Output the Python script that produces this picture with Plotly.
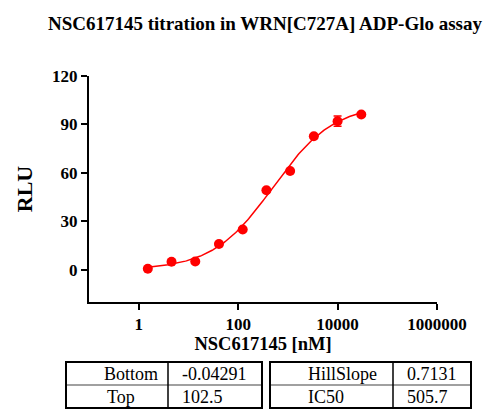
import numpy as np
import plotly.graph_objects as go

# Data
conc_nM = [1.524, 4.572, 13.72, 41.15, 123.5, 370.4, 1111, 3333, 10000, 30000]
rlu = [0.6, 4.9, 5.1, 15.9, 24.9, 49.2, 61.1, 82.7, 92.0, 96.1]
rlu_err = [0.5, 0.5, 0.5, 0.5, 0.5, 0.5, 0.5, 0.5, 3.2, 0.5]

# Fit parameters (as printed in the table)
param_names_left = ["Bottom", "Top"]
param_vals_left = ["-0.04291", "102.5"]
param_names_right = ["HillSlope", "IC50"]
param_vals_right = ["0.7131", "505.7"]
bottom, top, hill, ic50 = -0.04291, 102.5, 0.7131, 505.7

x_ticks = [1, 100, 10000, 1000000]
x_ticklabels = ["1", "100", "10000", "1000000"]
y_ticks = [0, 30, 60, 90, 120]

RED = "#ff0000"
FONT = "'Liberation Serif', 'Times New Roman', serif"

xf = np.logspace(np.log10(min(conc_nM)), np.log10(max(conc_nM)), 200)
yf = bottom + (top - bottom) / (1 + (ic50 / xf) ** hill)

fig = go.Figure()
fig.add_trace(go.Scatter(x=xf, y=yf, mode="lines", line=dict(color=RED, width=1.5),
                         hoverinfo="skip", showlegend=False))
fig.add_trace(go.Scatter(x=conc_nM, y=rlu, mode="markers",
                         marker=dict(color=RED, size=10),
                         error_y=dict(type="data", array=rlu_err, color=RED, thickness=1.5, width=4),
                         showlegend=False))

W, H = 500, 420
L, R, T, B = 89, 63, 76, 118

fig.update_layout(
    width=W, height=H,
    margin=dict(l=L, r=R, t=T, b=B),
    paper_bgcolor="white", plot_bgcolor="white",
    font=dict(family=FONT, color="black"),
    title=dict(text="<b>NSC617145 titration in WRN[C727A] ADP-Glo assay</b>",
               font=dict(size=19, family=FONT, color="black"),
               x=0.53, xanchor="center", y=1 - 23 / H, yanchor="middle"),
    xaxis=dict(type="log", range=[-1, 6], tickvals=x_ticks, ticktext=[f"<b>{t}</b>" for t in x_ticklabels],
               showgrid=False, zeroline=False, showline=True, linecolor="black", linewidth=2,
               ticks="outside", ticklen=6, tickwidth=2, tickcolor="black",
               tickfont=dict(size=17, family=FONT),
               title=dict(text="<b>NSC617145 [nM]</b>", font=dict(size=18.5, family=FONT), standoff=1)),
    yaxis=dict(range=[-20, 120], tickvals=y_ticks, ticktext=[f"<b>{t}</b>" for t in y_ticks],
               showgrid=False, zeroline=False, showline=True, linecolor="black", linewidth=2,
               ticks="outside", ticklen=6, tickwidth=2, tickcolor="black",
               tickfont=dict(size=17, family=FONT),
               title=dict(text="<b>RLU</b>", font=dict(size=22, family=FONT), standoff=13)),
)

def px(x):
    return (x - L) / (W - L - R)

def py(y):
    return (H - B - y) / (H - T - B)

shapes = []
def table(x0, xmid, x1, y0, ymid, y1):
    shapes.append(dict(type="line", xref="paper", yref="paper", x0=px(x0), x1=px(x1), y0=py(ymid), y1=py(ymid),
                       line=dict(color="#a0a0a0", width=2)))
    shapes.append(dict(type="line", xref="paper", yref="paper", x0=px(xmid), x1=px(xmid), y0=py(y0), y1=py(y1),
                       line=dict(color="black", width=1.5)))
    shapes.append(dict(type="rect", xref="paper", yref="paper", x0=px(x0), x1=px(x1), y0=py(y0), y1=py(y1),
                       line=dict(color="black", width=2)))

table(66, 168, 262, 362, 385, 408)
table(270, 393, 471, 362, 385, 408)
fig.update_layout(shapes=shapes)

rows_y = [373.5, 396.5]
ann = []
for i in range(2):
    ann.append(dict(text=param_names_left[i], x=px(102 if i == 0 else 105), y=py(rows_y[i])))
    ann.append(dict(text=param_vals_left[i], x=px(180), y=py(rows_y[i])))
    ann.append(dict(text=param_names_right[i], x=px(306), y=py(rows_y[i])))
    ann.append(dict(text=param_vals_right[i], x=px(405), y=py(rows_y[i])))
for a in ann:
    a.update(xref="paper", yref="paper", xanchor="left", yanchor="middle", showarrow=False,
             font=dict(size=18, family=FONT, color="black"))
fig.update_layout(annotations=ann)

fig.write_html("out.html", config={"displayModeBar": False},
               post_script="document.body.style.margin='0px';")
